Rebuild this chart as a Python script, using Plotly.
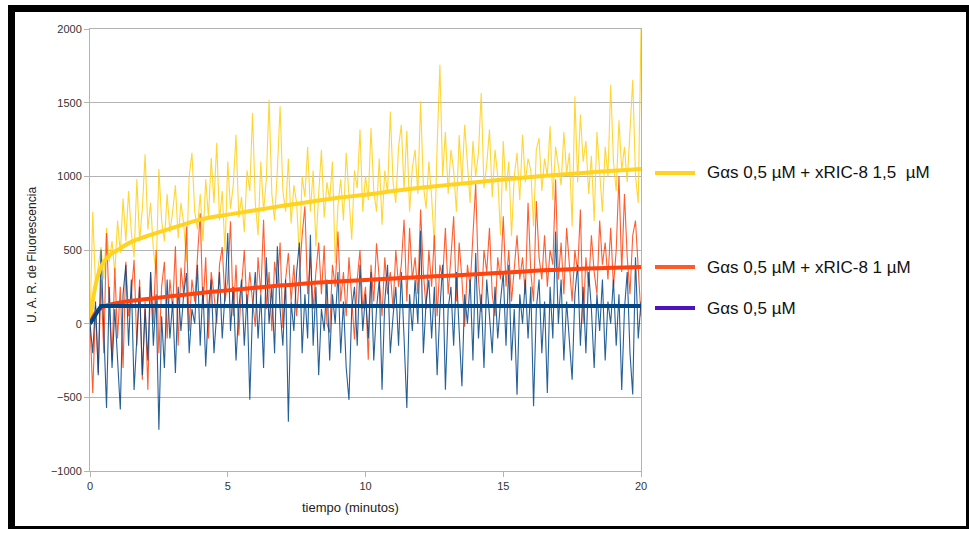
import numpy as np
import plotly.graph_objects as go

# Sampling grid of the fluorescence recordings (minutes)
t_raw = np.round(np.arange(201) * 0.1, 1)

# Raw fluorescence, Gαs 0,5 µM + xRIC-8 1,5 µM
yellow_raw = [
    0, 760, 260, 380, 520, 300, 650, 420, 560, 340,
    700, 480, 850, 560, 900, 620, 450, 980, 560, 780,
    1150, 640, 820, 500, 340, 1050, 700, 560, 880, 620,
    760, 940, 580, 820, 680, 420, 1000, 1160, 760, 640,
    880, 560, 980, 720, 1125, 820, 1227, 700, 900, 490,
    1100, 780, 940, 1282, 720, 860, 620, 1040, 900, 1430,
    820, 600, 1100, 760, 980, 1520, 880, 700, 1040, 1475,
    900, 760, 1120, 680, 940, 820, 457, 1000, 860, 1200,
    760, 1040, 525, 880, 1180, 720, 960, 840, 1100, 412,
    800, 980, 700, 1160, 860, 570, 1040, 920, 1317, 760,
    1000, 840, 1328, 900, 760, 1120, 672, 1040, 880, 1440,
    960, 820, 1200, 1350, 900, 1310, 760, 1060, 1180, 880,
    1509, 940, 780, 1100, 860, 525, 1200, 1758, 1000, 1300,
    880, 1180, 1040, 760, 1280, 960, 1350, 1100, 820, 1240,
    1000, 1160, 1566, 920, 1080, 1317, 860, 1180, 1000, 600,
    1240, 900, 1100, 593, 1000, 1160, 840, 1282, 960, 1120,
    1040, 660, 1180, 1260, 900, 1120, 1000, 1340, 840, 1200,
    1080, 940, 1300, 1020, 1160, 660, 1543, 960, 1420, 1100,
    1240, 880, 1140, 697, 1300, 1060, 760, 1200, 1000, 1622,
    1100, 900, 1380, 1040, 1200, 960, 1280, 1656, 1000, 820,
    2000,
]

# Raw fluorescence, Gαs 0,5 µM + xRIC-8 1 µM
orange_raw = [
    0, -471, 120, -335, 300, -200, 615, 100, -250, 380,
    -100, 250, -300, 420, 50, 200, 433, -150, 300, -380,
    150, -448, 350, 0, 500, -200, 250, 420, -100, 300,
    100, 525, -150, 380, 200, 660, -50, 300, 150, 450,
    750, 100, 450, -100, 350, 200, 0, 400, 520, 150,
    300, 695, 50, 400, -80, 250, 500, 100, 350, 150,
    -20, 450, 200, 706, 100, 350, -50, 420, 250, 550,
    -30, 300, 480, 150, 400, 50, 350, 600, 797, 200,
    450, 100, 350, 550, 200, 530, 0, -60, 400, 250,
    626, 150, 350, 50, 450, 200, -108, 300, 500, 100,
    250, -244, 400, 150, 545, 300, 50, 450, 200, 350,
    100, 500, 250, 400, 706, 150, 650, 300, 450, 200,
    774, 350, 100, 500, 250, 600, 50, 400, 300, 650,
    200, 450, 729, 150, 550, 300, -20, 400, 250, 600,
    950, 300, 80, 500, 350, 650, 200, 50, 450, 300,
    729, 250, 500, 150, 400, 600, 300, 450, 200, 820,
    350, 150, 832, 450, 300, 600, 250, 500, 400, 979,
    300, 550, 200, 650, 400, 150, 500, 350, 774, 0,
    450, 250, 600, 350, 200, 700, 400, 550, 300, 650,
    250, 500, 1000, 350, 880, 450, 200, 600, 700, 400,
    50,
]

# Raw fluorescence, Gαs 0,5 µM
blue_raw = [
    0, -200, 150, -350, 502, -100, -572, 250, -300, 100,
    -200, -583, 200, 400, -150, 300, -450, -100, 250, -350,
    100, -250, 350, -150, 200, -720, 50, -300, 300, -100,
    150, -335, 250, -50, 200, 343, -200, 100, 0, 400,
    -150, 250, -290, 100, 300, -200, 50, 350, -100, 200,
    615, -50, 250, -250, 100, 300, -150, 200, -517, 100,
    350, -100, 200, -300, 450, 0, 250, -200, 525, 100,
    -150, 300, -665, 150, -50, 350, 550, -200, 200, -100,
    603, -150, 250, -350, 100, -50, 300, -250, 200, 0,
    350, -200, 150, -300, -517, 100, 250, -150, 400, -50,
    200, -100, 350, -250, 100, 300, -448, 150, 400, -200,
    50, 250, -150, 350, -100, -572, 200, -50, 300, 0,
    630, -200, 150, 300, -100, 250, -350, 100, 400, -448,
    100, 250, -150, 350, -50, -425, 200, 0, 300, -250,
    480, -100, 200, -300, 300, 50, -200, 250, -100, 150,
    350, -150, 400, -250, 100, -482, 200, 0, 300, -100,
    250, -560, 100, 300, -200, 150, -470, 250, -100, 626,
    0, 300, -250, 150, -100, -380, 200, 400, -150, 250,
    -200, 350, 100, -300, 200, -50, 300, -250, 150, 0,
    300, -150, 200, -450, 100, 350, -200, -480, 450, -100,
    150,
]

# Fitted curves
t_fit = [0, 0.1, 0.25, 0.5, 0.75, 1, 1.5, 2, 3, 4, 5, 6, 7, 8, 9, 10,
         11, 12, 13, 14, 15, 16, 17, 18, 19, 20]
yellow_fit = [0, 150, 300, 420, 470, 500, 555, 590, 650, 706, 740, 770, 800,
              828, 855, 875, 900, 922, 942, 960, 978, 995, 1010, 1025, 1038, 1050]
orange_fit = [0, 40, 85, 115, 130, 140, 155, 165, 188, 208, 226, 243, 260,
              275, 286, 297, 307, 316, 326, 336, 346, 358, 366, 374, 380, 385]
t_fit_blue = [0, 0.1, 0.25, 0.4, 20]
blue_fit = [0, 30, 85, 120, 120]

legend_labels = [
    "Gαs 0,5 µM + xRIC-8 1,5  µM",
    "Gαs 0,5 µM + xRIC-8 1 µM",
    "Gαs 0,5 µM",
]

YELLOW = "#FFD320"
ORANGE = "#FF420E"
BLUE = "#004586"
PURPLE = "#4B14BE"

W, H = 969, 533
ML, MR, MT, MB = 90, 328, 29, 62
PW, PH = W - ML - MR, H - MT - MB


def px(x):
    return (x - ML) / PW


def py(y):
    return (H - MB - y) / PH


fig = go.Figure()
fig.add_trace(go.Scatter(x=t_raw, y=yellow_raw, mode="lines",
                         line=dict(color=YELLOW, width=1.1), opacity=0.9))
fig.add_trace(go.Scatter(x=t_raw, y=orange_raw, mode="lines",
                         line=dict(color=ORANGE, width=1.1), opacity=0.85))
fig.add_trace(go.Scatter(x=t_raw, y=blue_raw, mode="lines",
                         line=dict(color=BLUE, width=1.1), opacity=0.85))
fig.add_trace(go.Scatter(x=t_fit, y=yellow_fit, mode="lines",
                         line=dict(color=YELLOW, width=4, shape="spline")))
fig.add_trace(go.Scatter(x=t_fit, y=orange_fit, mode="lines",
                         line=dict(color=ORANGE, width=4, shape="spline")))
fig.add_trace(go.Scatter(x=t_fit_blue, y=blue_fit, mode="lines",
                         line=dict(color=BLUE, width=4)))

shapes = []
# outer frame
frame = [(8, 5, 969, 12), (8, 5, 15, 529), (966, 5, 969, 529), (8, 526, 969, 529)]
for x0, y0, x1, y1 in frame:
    shapes.append(dict(type="rect", xref="paper", yref="paper",
                       x0=px(x0), x1=px(x1), y0=py(y0), y1=py(y1),
                       fillcolor="black", line=dict(width=0), layer="above"))

annotations = []
legend_y = [173, 267, 308]
legend_colors = [YELLOW, "#FF5A2A", PURPLE]
for label, ly, col in zip(legend_labels, legend_y, legend_colors):
    shapes.append(dict(type="line", xref="paper", yref="paper",
                       x0=px(655), x1=px(695), y0=py(ly), y1=py(ly),
                       line=dict(color=col, width=4)))
    annotations.append(dict(text=label, xref="paper", yref="paper",
                            x=px(705), y=py(ly), xanchor="left", yanchor="middle",
                            showarrow=False,
                            font=dict(family="Liberation Sans, Arial", size=17, color="#111")))

annotations.append(dict(text="tiempo (minutos)", xref="paper", yref="paper",
                        x=px(350), y=py(508), xanchor="center", yanchor="middle",
                        showarrow=False,
                        font=dict(family="Liberation Sans, Arial", size=13, color="#222")))
annotations.append(dict(text="U. A. R. de Fluorescencia", xref="paper", yref="paper",
                        x=px(32), y=py(255), xanchor="center", yanchor="middle",
                        textangle=-90, showarrow=False,
                        font=dict(family="Liberation Sans, Arial", size=12, color="#222")))

axis_common = dict(showline=True, linecolor="#b3b3b3", linewidth=1,
                   ticks="outside", ticklen=5, tickcolor="#b3b3b3",
                   tickfont=dict(family="Liberation Sans, Arial", size=11, color="#333"),
                   zeroline=False, mirror=True)

fig.update_layout(
    width=W, height=H,
    margin=dict(l=ML, r=MR, t=MT, b=MB),
    paper_bgcolor="white", plot_bgcolor="white",
    showlegend=False,
    xaxis=dict(range=[0, 20], tickvals=[0, 5, 10, 15, 20], showgrid=False,
               **axis_common),
    yaxis=dict(range=[-1000, 2000], tickvals=list(range(-1000, 2001, 500)),
               showgrid=True, gridcolor="#b3b3b3", gridwidth=1,
               **axis_common),
    shapes=shapes,
    annotations=annotations,
)

fig.write_html("out.html")
